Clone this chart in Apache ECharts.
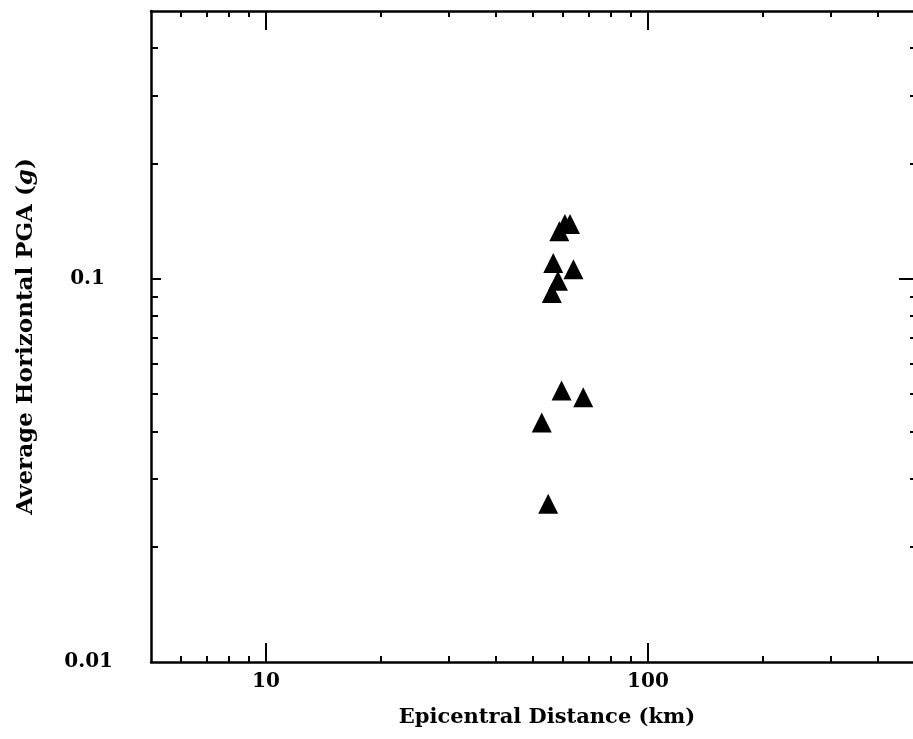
<!DOCTYPE html>
<html>
<head>
<meta charset="utf-8">
<script src="https://cdn.jsdelivr.net/npm/echarts@6/dist/echarts.min.js"></script>
<style>html,body{margin:0;padding:0;background:#fff;}#c{width:913px;height:739px;}</style>
</head>
<body>
<div id="c"></div>
<script>
// Data
const distanceKm = [60.6, 62.5, 58.6, 56.5, 63.8, 58.1, 56.0, 59.4, 67.7, 52.7, 54.8];
const pgaG = [0.139, 0.139, 0.133, 0.110, 0.106, 0.0988, 0.0919, 0.0511, 0.0491, 0.0422, 0.0259];

// Axis tick values
const xLabelValues = [10, 100];
const xMajorTicks = [10, 100];
const xMinorTicks = [6, 7, 8, 9, 20, 30, 40, 50, 60, 70, 80, 90, 200, 300, 400];
const yLabelValues = [0.01, 0.1];
const yMajorTicks = [0.1];
const yMinorTicks = [0.02, 0.03, 0.04, 0.05, 0.06, 0.07, 0.08, 0.09, 0.2, 0.3, 0.4];

const xTitle = 'Epicentral Distance (km)';
const yTitle = '{t|Average Horizontal PGA (}{i|g}{t|)}';

const X_MIN = 5, X_MAX = 500, Y_MIN = 0.01, Y_MAX = 0.5;
const FONT = 'DejaVu Serif';
const black = '#000';

function xAx(pos, ticks, len, withLine, withLabel, extra) {
  return Object.assign({
    type: 'log', position: pos, min: X_MIN, max: X_MAX, logBase: 10,
    splitLine: { show: false },
    axisLine: { show: withLine, lineStyle: { color: black, width: 2.5 } },
    axisTick: { show: true, inside: true, length: len, customValues: ticks, lineStyle: { color: black, width: 2 } },
    axisLabel: withLabel ? { show: true, customValues: xLabelValues, color: black, fontFamily: FONT, fontSize: 20, fontWeight: 'bold', margin: 10 } : { show: false }
  }, extra || {});
}
function yAx(pos, ticks, len, withLine, withLabel, extra) {
  return Object.assign({
    type: 'log', position: pos, min: Y_MIN, max: Y_MAX, logBase: 10,
    splitLine: { show: false },
    axisLine: { show: withLine, lineStyle: { color: black, width: 2.5 } },
    axisTick: { show: true, inside: true, length: len, customValues: ticks, lineStyle: { color: black, width: 2 } },
    axisLabel: withLabel ? { show: true, customValues: yLabelValues, color: black, fontFamily: FONT, fontSize: 20, fontWeight: 'bold', margin: 38,
      formatter: v => (v >= 0.095 ? '{b|0.1}' : '{a|0.01}'),
      rich: {
        a: { fontFamily: FONT, fontSize: 20, fontWeight: 'bold', color: black },
        b: { fontFamily: FONT, fontSize: 20, fontWeight: 'bold', color: black, padding: [0, 8, 0, 0] }
      } } : { show: false }
  }, extra || {});
}

const chart = echarts.init(document.getElementById('c'), null, { renderer: 'canvas' });
chart.setOption({
  backgroundColor: '#fff',
  animation: false,
  grid: { left: 151, right: -2, top: 11, bottom: 77, outerBoundsMode: 'none', containLabel: false },
  xAxis: [
    xAx('bottom', xMajorTicks, 19, true, true, {
      name: xTitle, nameLocation: 'middle', nameGap: 45,
      nameTextStyle: { color: black, fontFamily: FONT, fontSize: 21, fontWeight: 'bold', padding: [0, 0, 0, 28] }
    }),
    xAx('bottom', xMinorTicks, 6, false, false),
    xAx('top', xMajorTicks, 19, true, false),
    xAx('top', xMinorTicks, 6, false, false)
  ],
  yAxis: [
    yAx('left', yMajorTicks, 10, true, true, {
      name: yTitle, nameLocation: 'middle', nameGap: 113,
      nameTextStyle: { color: black, rich: {
        t: { fontFamily: FONT, fontSize: 23, fontWeight: 'bold', color: black },
        i: { fontFamily: FONT, fontSize: 23, fontWeight: 'bold', fontStyle: 'italic', color: black }
      } }
    }),
    yAx('left', yMinorTicks, 7, false, false),
    yAx('right', yMajorTicks, 16, false, false),
    yAx('right', yMinorTicks, 5, false, false)
  ],
  series: [{
    type: 'scatter',
    xAxisIndex: 0, yAxisIndex: 0,
    symbol: 'triangle', symbolSize: [20, 20],
    itemStyle: { color: black, opacity: 1 },
    data: distanceKm.map((d, i) => [d, pgaG[i]])
  }]
});
</script>
</body>
</html>
